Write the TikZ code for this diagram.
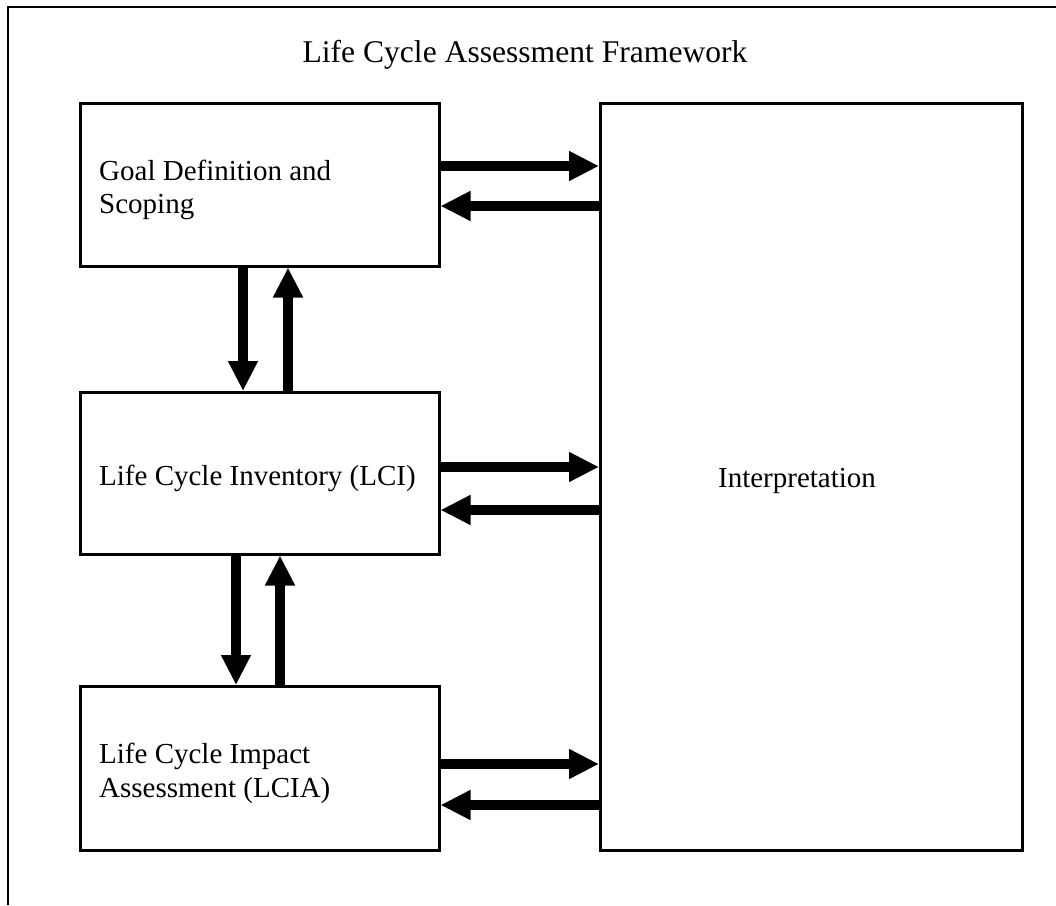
\documentclass[tikz,border=0pt]{standalone}
\usepackage{fontspec}
\setmainfont{Liberation Serif}
\usetikzlibrary{arrows.meta}
\begin{document}
\begin{tikzpicture}[x=1pt,y=-1pt,
  stage/.style={draw,line width=2.5pt,anchor=north west,inner sep=0pt,minimum width=359pt,minimum height=#1},
  label/.style={anchor=base west,inner sep=0pt,font=\fontsize{29}{32}\selectfont},
  flow/.style={line width=10pt,-{Triangle[length=30pt,width=28pt]}}]
\useasboundingbox (0,0) rectangle (1056,905);
% open frame: top and left sides
\draw[line width=2.5pt] (8,905) -- (8,7) -- (1060,7);
\node[anchor=base,inner sep=0pt,font=\fontsize{31.6}{36}\selectfont] (title) at (525,62) {Life Cycle Assessment Framework};
% stages
\node[stage=163pt] (goal) at (79,102) {};
\node[stage=162pt] (lci) at (79,391) {};
\node[stage=164pt] (lcia) at (79,685) {};
\node[draw,line width=2.5pt,anchor=north west,minimum width=422pt,minimum height=747pt,inner sep=0pt] (interp) at (599,102) {};
% stage texts
\node[label] (goalA) at (99,180) {Goal Definition and};
\node[label] (goalB) at (99,213) {Scoping};
\node[label] (lcitext) at (99,485) {Life Cycle Inventory (LCI)};
\node[label] (lciaA) at (99,763) {Life Cycle Impact};
\node[label] (lciaB) at (99,797) {Assessment (LCIA)};
\node[anchor=base,inner sep=0pt,font=\fontsize{29}{32}\selectfont] (interptext) at (797,487) {Interpretation};
% horizontal exchanges with interpretation
\draw[flow] (goal.east |- 0,166) -- (interp.west |- 0,166);
\draw[flow] (interp.west |- 0,206) -- (goal.east |- 0,206);
\draw[flow] (lci.east |- 0,467) -- (interp.west |- 0,467);
\draw[flow] (interp.west |- 0,510) -- (lci.east |- 0,510);
\draw[flow] (lcia.east |- 0,764) -- (interp.west |- 0,764);
\draw[flow] (interp.west |- 0,805) -- (lcia.east |- 0,805);
% vertical exchanges between stages
\draw[flow] (goal.south -| 243,0) -- (lci.north -| 243,0);
\draw[flow] (lci.north -| 288,0) -- (goal.south -| 288,0);
\draw[flow] (lci.south -| 236,0) -- (lcia.north -| 236,0);
\draw[flow] (lcia.north -| 280,0) -- (lci.south -| 280,0);
\end{tikzpicture}
\end{document}
